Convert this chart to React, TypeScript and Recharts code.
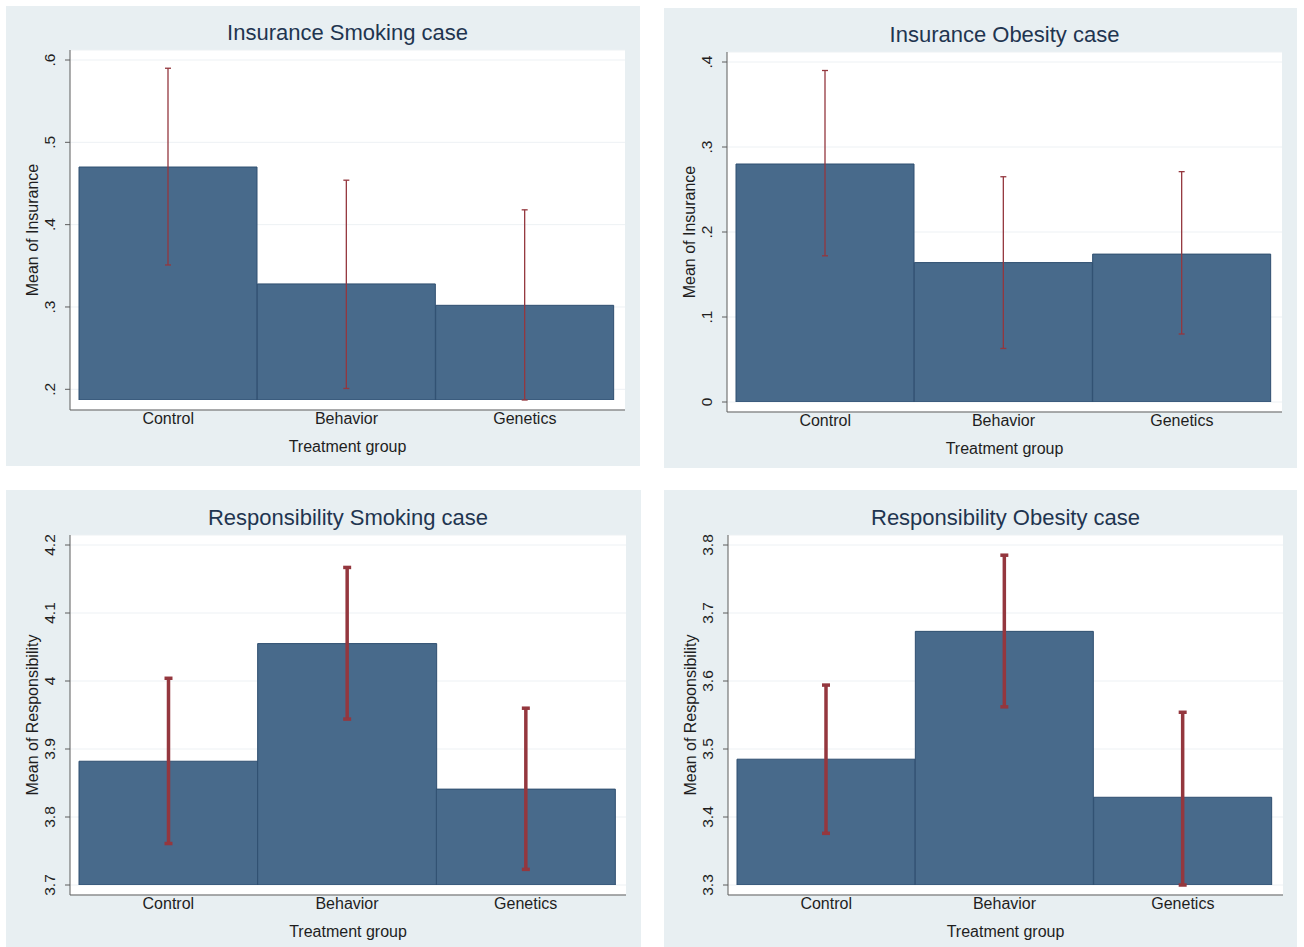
import { BarChart, Bar, XAxis, YAxis, CartesianGrid, ErrorBar } from "recharts";

const FONT = '"Liberation Sans", Arial, Helvetica, sans-serif';
const PANEL_BG = "#e8eff2";
const BAR_FILL = "#486a8b";
const BAR_STROKE = "#2f4f70";
const CI_COLOR = "#94373e";
const AXIS_COLOR = "#5c5c5c";
const TEXT_COLOR = "#1e1e1e";
const TITLE_COLOR = "#1f3550";

const groups = ["Control", "Behavior", "Genetics"];

// Insurance, smoking case
const insSmokeMean = [0.47, 0.328, 0.302];
const insSmokeLow = [0.351, 0.201, 0.187];
const insSmokeHigh = [0.59, 0.454, 0.418];
const insSmokeTicks = [0.2, 0.3, 0.4, 0.5, 0.6];
const insSmokeDomain = [0.187, 0.6];

// Insurance, obesity case
const insObesMean = [0.28, 0.164, 0.174];
const insObesLow = [0.172, 0.063, 0.08];
const insObesHigh = [0.39, 0.265, 0.271];
const insObesTicks = [0, 0.1, 0.2, 0.3, 0.4];
const insObesDomain = [0, 0.4];

// Responsibility, smoking case
const respSmokeMean = [3.882, 4.055, 3.841];
const respSmokeLow = [3.761, 3.944, 3.723];
const respSmokeHigh = [4.004, 4.167, 3.96];
const respSmokeTicks = [3.7, 3.8, 3.9, 4, 4.1, 4.2];
const respSmokeDomain = [3.7, 4.2];

// Responsibility, obesity case
const respObesMean = [3.485, 3.673, 3.429];
const respObesLow = [3.376, 3.562, 3.3];
const respObesHigh = [3.594, 3.785, 3.554];
const respObesTicks = [3.3, 3.4, 3.5, 3.6, 3.7, 3.8];
const respObesDomain = [3.3, 3.8];

const buildRows = (mean: number[], low: number[], high: number[]) =>
  groups.map((g, i) => ({
    group: g,
    mean: mean[i],
    err: [mean[i] - low[i], high[i] - mean[i]],
  }));

const fmtTick = (v: number) => String(Number(v.toFixed(1))).replace(/^0\./, ".");

const YTick = (props: any) => {
  const { x, y, payload } = props;
  return (
    <g transform={`translate(${x},${y}) rotate(-90)`}>
      <text x={0} y={-8} textAnchor="middle" fill={TEXT_COLOR} fontSize={15.5} fontFamily={FONT}>
        {fmtTick(payload.value)}
      </text>
    </g>
  );
};

const Label = ({ x, y, size, color, rotate, children }: any) => (
  <div
    style={{
      position: "absolute",
      left: x,
      top: y,
      transform: `translate(-50%, -50%)${rotate ? " rotate(-90deg)" : ""}`,
      fontFamily: FONT,
      fontSize: size,
      lineHeight: 1,
      color,
      whiteSpace: "nowrap",
    }}
  >
    {children}
  </div>
);

function Panel({ title, yTitle, data, domain, ticks, bg, plot, ciWidth, ciCap }: any) {
  const [bx, by, bw, bh] = bg;
  const [px, py, pw] = plot;
  const ph = 360;
  const yAxisW = 40;
  const xAxisH = 30;
  const left = px - bx;
  const top = py - by;
  const margin = {
    top,
    left: left - yAxisW,
    right: bw - left - pw,
    bottom: bh - top - ph - xAxisH,
  };

  return (
    <div style={{ position: "absolute", left: bx, top: by, width: bw, height: bh, background: PANEL_BG }}>
      <BarChart width={bw} height={bh} data={data} margin={margin} barCategoryGap={0} barGap={0}>
        <CartesianGrid vertical={false} stroke="#edf1f4" fill="#ffffff" />
        <XAxis
          dataKey="group"
          interval={0}
          tickLine={false}
          tickSize={0}
          tickMargin={3}
          height={xAxisH}
          axisLine={{ stroke: AXIS_COLOR }}
          padding={{ left: 9, right: 11 }}
          tick={{ fill: TEXT_COLOR, fontSize: 16, fontFamily: FONT }}
        />
        <YAxis
          type="number"
          domain={domain}
          ticks={ticks}
          interval={0}
          allowDataOverflow
          width={yAxisW}
          padding={{ top: 10, bottom: 10 }}
          tickSize={5}
          tickLine={{ stroke: AXIS_COLOR }}
          axisLine={{ stroke: AXIS_COLOR }}
          tick={(p: any) => <YTick {...p} />}
        />
        <Bar dataKey="mean" fill={BAR_FILL} stroke={BAR_STROKE} strokeWidth={1} isAnimationActive={false}>
          <ErrorBar dataKey="err" direction="y" width={ciCap} strokeWidth={ciWidth} stroke={CI_COLOR} />
        </Bar>
      </BarChart>
      <Label x={left + pw / 2} y={top - 17} size={22} color={TITLE_COLOR}>
        {title}
      </Label>
      <Label x={left + pw / 2} y={top + ph + 37} size={16} color={TEXT_COLOR}>
        Treatment group
      </Label>
      <Label x={left - 37} y={top + ph / 2} size={16} color={TEXT_COLOR} rotate>
        {yTitle}
      </Label>
    </div>
  );
}

export default function App() {
  return (
    <div style={{ position: "absolute", left: 0, top: 0, width: 1304, height: 947, background: "#ffffff" }}>
      <Panel
        title="Insurance Smoking case"
        yTitle="Mean of Insurance"
        data={buildRows(insSmokeMean, insSmokeLow, insSmokeHigh)}
        domain={insSmokeDomain}
        ticks={insSmokeTicks}
        bg={[6, 6, 634, 460]}
        plot={[70, 50, 555]}
        ciWidth={1.3}
        ciCap={3}
      />
      <Panel
        title="Insurance Obesity case"
        yTitle="Mean of Insurance"
        data={buildRows(insObesMean, insObesLow, insObesHigh)}
        domain={insObesDomain}
        ticks={insObesTicks}
        bg={[664, 8, 633, 460]}
        plot={[727, 52, 555]}
        ciWidth={1.3}
        ciCap={3}
      />
      <Panel
        title="Responsibility Smoking case"
        yTitle="Mean of Responsibility"
        data={buildRows(respSmokeMean, respSmokeLow, respSmokeHigh)}
        domain={respSmokeDomain}
        ticks={respSmokeTicks}
        bg={[6, 490, 635, 457]}
        plot={[70, 535, 556]}
        ciWidth={3.5}
        ciCap={4}
      />
      <Panel
        title="Responsibility Obesity case"
        yTitle="Mean of Responsibility"
        data={buildRows(respObesMean, respObesLow, respObesHigh)}
        domain={respObesDomain}
        ticks={respObesTicks}
        bg={[664, 490, 633, 457]}
        plot={[728, 535, 555]}
        ciWidth={3.5}
        ciCap={4}
      />
    </div>
  );
}
